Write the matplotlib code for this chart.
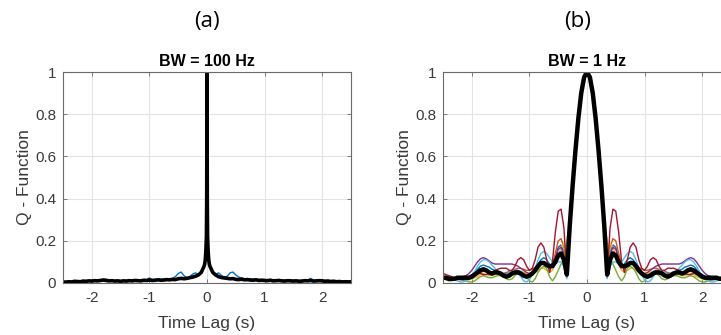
import numpy as np
import matplotlib
matplotlib.use("Agg")
import matplotlib.pyplot as plt

# ---------------- data ----------------
# Panel (a): BW = 100 Hz  (coarse lag grid -2.5..2.5 step 0.05, plus fine points around the spike)
lag_a_coarse = np.round(np.arange(-2.5, 2.5001, 0.05), 3)
black_a_coarse = [
    0.005, 0.004, 0.006, 0.005, 0.008, 0.007, 0.006, 0.009, 0.008, 0.010,
    0.009, 0.011, 0.010, 0.012, 0.014, 0.012, 0.010, 0.011, 0.009, 0.010,
    0.008, 0.010, 0.009, 0.011, 0.010, 0.012, 0.011, 0.010, 0.013, 0.012,
    0.014, 0.012, 0.013, 0.015, 0.013, 0.014, 0.016, 0.015, 0.017, 0.016,
    0.020, 0.022, 0.020, 0.022, 0.025, 0.028, 0.032, 0.038, 0.050, 0.080,
    1.000, 0.080, 0.050, 0.038, 0.030, 0.026, 0.024, 0.022, 0.020, 0.021,
    0.017, 0.016, 0.018, 0.015, 0.016, 0.014, 0.013, 0.015, 0.012, 0.013,
    0.012, 0.011, 0.013, 0.010, 0.011, 0.012, 0.010, 0.009, 0.011, 0.010,
    0.009, 0.010, 0.008, 0.009, 0.011, 0.010, 0.012, 0.009, 0.010, 0.011,
    0.010, 0.008, 0.009, 0.007, 0.008, 0.006, 0.007, 0.005, 0.006, 0.005,
    0.006,
]
blue_a_coarse = [
    0.008, 0.007, 0.009, 0.008, 0.011, 0.010, 0.009, 0.012, 0.011, 0.013,
    0.012, 0.014, 0.013, 0.015, 0.017, 0.018, 0.014, 0.014, 0.012, 0.013,
    0.011, 0.013, 0.012, 0.014, 0.013, 0.015, 0.014, 0.013, 0.016, 0.015,
    0.024, 0.016, 0.017, 0.019, 0.017, 0.018, 0.020, 0.019, 0.022, 0.030,
    0.045, 0.052, 0.035, 0.025, 0.030, 0.042, 0.048, 0.040, 0.055, 0.085,
    1.000, 0.085, 0.055, 0.042, 0.048, 0.036, 0.028, 0.032, 0.048, 0.052,
    0.038, 0.028, 0.024, 0.020, 0.021, 0.019, 0.018, 0.020, 0.016, 0.017,
    0.016, 0.015, 0.017, 0.014, 0.015, 0.016, 0.014, 0.013, 0.015, 0.014,
    0.013, 0.014, 0.012, 0.013, 0.015, 0.014, 0.022, 0.013, 0.014, 0.015,
    0.014, 0.012, 0.013, 0.011, 0.012, 0.010, 0.011, 0.009, 0.010, 0.009,
    0.010,
]
lag_a_fine = [-0.04, -0.03, -0.02, -0.01, -0.005, 0.005, 0.01, 0.02, 0.03, 0.04]
black_a_fine = [0.09, 0.11, 0.15, 0.22, 0.40, 0.40, 0.22, 0.15, 0.11, 0.09]
blue_a_fine = [0.095, 0.12, 0.16, 0.23, 0.41, 0.41, 0.23, 0.16, 0.12, 0.095]

# Panel (b): BW = 1 Hz  (symmetric; one half read at lag 0..2.5 step 0.05)
lag_b_half = np.round(np.arange(0, 2.5001, 0.05), 3)
main_lobe = [1.0, 0.975, 0.90, 0.78, 0.63, 0.46, 0.27]
blue_b = main_lobe + [
    0.03, 0.14, 0.18, 0.17, 0.12, 0.08, 0.09, 0.11, 0.12, 0.11, 0.09, 0.06, 0.04,
    0.03, 0.035, 0.045, 0.055, 0.06, 0.06, 0.055, 0.05, 0.045, 0.045, 0.05, 0.055,
    0.06, 0.065, 0.075, 0.08, 0.085, 0.08, 0.065, 0.05, 0.035, 0.025, 0.02, 0.02,
    0.02, 0.02, 0.02, 0.02, 0.02, 0.025, 0.025]
orange_b = main_lobe + [
    0.04, 0.17, 0.21, 0.20, 0.14, 0.09, 0.08, 0.09, 0.10, 0.10, 0.09, 0.075, 0.065,
    0.06, 0.06, 0.065, 0.07, 0.07, 0.065, 0.06, 0.055, 0.05, 0.045, 0.045, 0.05,
    0.05, 0.05, 0.05, 0.055, 0.055, 0.05, 0.04, 0.035, 0.03, 0.025, 0.02, 0.02,
    0.02, 0.02, 0.02, 0.025, 0.03, 0.03, 0.03]
yellow_b = main_lobe + [
    0.05, 0.19, 0.17, 0.13, 0.09, 0.06, 0.05, 0.06, 0.07, 0.07, 0.06, 0.05, 0.04,
    0.04, 0.045, 0.05, 0.055, 0.05, 0.045, 0.04, 0.035, 0.03, 0.03, 0.035, 0.04,
    0.04, 0.035, 0.035, 0.04, 0.045, 0.04, 0.03, 0.025, 0.02, 0.015, 0.015, 0.015,
    0.02, 0.02, 0.02, 0.02, 0.025, 0.025, 0.03]
purple_b = main_lobe + [
    0.03, 0.13, 0.17, 0.16, 0.11, 0.08, 0.07, 0.08, 0.09, 0.09, 0.08, 0.06, 0.05,
    0.045, 0.05, 0.06, 0.07, 0.08, 0.085, 0.09, 0.09, 0.09, 0.09, 0.09, 0.09,
    0.09, 0.095, 0.105, 0.115, 0.12, 0.115, 0.10, 0.08, 0.06, 0.045, 0.035, 0.03,
    0.02, 0.015, 0.015, 0.015, 0.02, 0.02, 0.025]
green_b = [1.0, 0.975, 0.90, 0.78, 0.63, 0.47, 0.30] + [
    0.20, 0.12, 0.09, 0.06, 0.03, 0.01, 0.03, 0.07, 0.08, 0.07, 0.05, 0.02, 0.005,
    0.01, 0.03, 0.045, 0.05, 0.045, 0.035, 0.02, 0.015, 0.02, 0.03, 0.035, 0.035,
    0.03, 0.025, 0.025, 0.03, 0.035, 0.03, 0.02, 0.01, 0.005, 0.005, 0.01, 0.015,
    0.02, 0.02, 0.015, 0.01, 0.01, 0.015, 0.02]
cyan_b = main_lobe + [
    0.02, 0.08, 0.10, 0.10, 0.09, 0.10, 0.12, 0.14, 0.15, 0.14, 0.11, 0.07, 0.04,
    0.015, 0.005, 0.01, 0.03, 0.05, 0.06, 0.06, 0.05, 0.04, 0.04, 0.045, 0.055,
    0.07, 0.085, 0.10, 0.11, 0.11, 0.10, 0.08, 0.055, 0.035, 0.02, 0.01, 0.005,
    0.005, 0.01, 0.015, 0.02, 0.02, 0.02, 0.02]
red_b = main_lobe + [
    0.03, 0.26, 0.35, 0.34, 0.24, 0.10, 0.05, 0.11, 0.17, 0.19, 0.17, 0.11, 0.07,
    0.06, 0.08, 0.11, 0.12, 0.11, 0.08, 0.06, 0.06, 0.07, 0.07, 0.07, 0.065,
    0.06, 0.05, 0.045, 0.04, 0.04, 0.045, 0.05, 0.045, 0.04, 0.03, 0.02, 0.015,
    0.015, 0.02, 0.025, 0.03, 0.035, 0.04, 0.045]
black_b = main_lobe + [
    0.04, 0.11, 0.14, 0.13, 0.10, 0.08, 0.08, 0.085, 0.095, 0.095, 0.08, 0.06, 0.045,
    0.035, 0.03, 0.035, 0.045, 0.05, 0.05, 0.045, 0.035, 0.03, 0.035, 0.045, 0.05,
    0.05, 0.045, 0.05, 0.06, 0.065, 0.06, 0.05, 0.04, 0.03, 0.025, 0.025, 0.025,
    0.025, 0.025, 0.02, 0.02, 0.02, 0.025, 0.025]

xticks = [-2, -1, 0, 1, 2]
xticklabels = ["-2", "-1", "0", "1", "2"]
yticks = [0, 0.2, 0.4, 0.6, 0.8, 1]
yticklabels = ["0", "0.2", "0.4", "0.6", "0.8", "1"]

colors_b = {
    "blue": "#0072BD", "orange": "#D95319", "yellow": "#EDB120",
    "purple": "#7E2F8E", "green": "#77AC30", "cyan": "#4DBEEE", "red": "#A2142F",
}

# ---------------- helpers ----------------
def merge(xc, yc, xf, yf):
    x = np.concatenate([np.asarray(xc, float), np.asarray(xf, float)])
    y = np.concatenate([np.asarray(yc, float), np.asarray(yf, float)])
    o = np.argsort(x, kind="stable")
    return x[o], y[o]

def mirror(xh, yh):
    xh = np.asarray(xh, float)
    yh = np.asarray(yh, float)
    return np.concatenate([-xh[::-1], xh[1:]]), np.concatenate([yh[::-1], yh[1:]])

plt.rcParams["font.family"] = ["Liberation Sans", "DejaVu Sans"]

W, H = 721, 335
fig = plt.figure(figsize=(W / 100, H / 100), dpi=100)

def style(ax, title):
    ax.set_xlim(-2.5, 2.5)
    ax.set_ylim(0, 1)
    ax.set_xticks(xticks)
    ax.set_xticklabels(xticklabels)
    ax.set_yticks(yticks)
    ax.set_yticklabels(yticklabels)
    ax.grid(True, color="#e3e3e3", linewidth=0.8)
    ax.set_axisbelow(True)
    for s in ax.spines.values():
        s.set_color("#6a6a6a")
        s.set_linewidth(0.8)
    ax.tick_params(direction="in", length=3, width=0.6, colors="#6a6a6a",
                   labelcolor="#3a3a3a", labelsize=11, top=True, right=True)
    ax.tick_params(axis="x", pad=6)
    ax.tick_params(axis="y", pad=5)
    ax.set_xlabel("Time Lag (s)", fontsize=12.5, color="#3a3a3a", labelpad=8)
    ax.set_ylabel("Q - Function", fontsize=12.5, color="#3a3a3a", labelpad=2)
    ax.set_title(title, fontsize=11.5, fontweight="bold", pad=4)

axw, axh = 288 / W, 211 / H
axb = (H - 283) / H
ax1 = fig.add_axes([63 / W, axb, axw, axh])
ax2 = fig.add_axes([443 / W, axb, axw, axh])

# Panel (a)
xa, ya_blue = merge(lag_a_coarse, blue_a_coarse, lag_a_fine, blue_a_fine)
_, ya_black = merge(lag_a_coarse, black_a_coarse, lag_a_fine, black_a_fine)
ax1.plot(xa, ya_blue, color="#0072BD", lw=1.0)
ax1.plot(xa, ya_black, color="black", lw=2.6, solid_joinstyle="round")
style(ax1, "BW = 100 Hz")

# Panel (b)
for name, vals in [("blue", blue_b), ("orange", orange_b), ("yellow", yellow_b),
                   ("purple", purple_b), ("green", green_b), ("cyan", cyan_b),
                   ("red", red_b)]:
    xb, yb = mirror(lag_b_half, vals)
    ax2.plot(xb, yb, color=colors_b[name], lw=1.0, solid_joinstyle="round")
xb, yb = mirror(lag_b_half, black_b)
ax2.plot(xb, yb, color="black", lw=3.2, solid_joinstyle="round", solid_capstyle="round")
style(ax2, "BW = 1 Hz")

fig.text(207 / W, 1 - 22 / H, "(a)", ha="center", va="center", fontsize=16,
         family=["Open Sans", "DejaVu Sans"])
fig.text(578 / W, 1 - 22 / H, "(b)", ha="center", va="center", fontsize=16,
         family=["Open Sans", "DejaVu Sans"])

fig.savefig("out.png", dpi=100)
